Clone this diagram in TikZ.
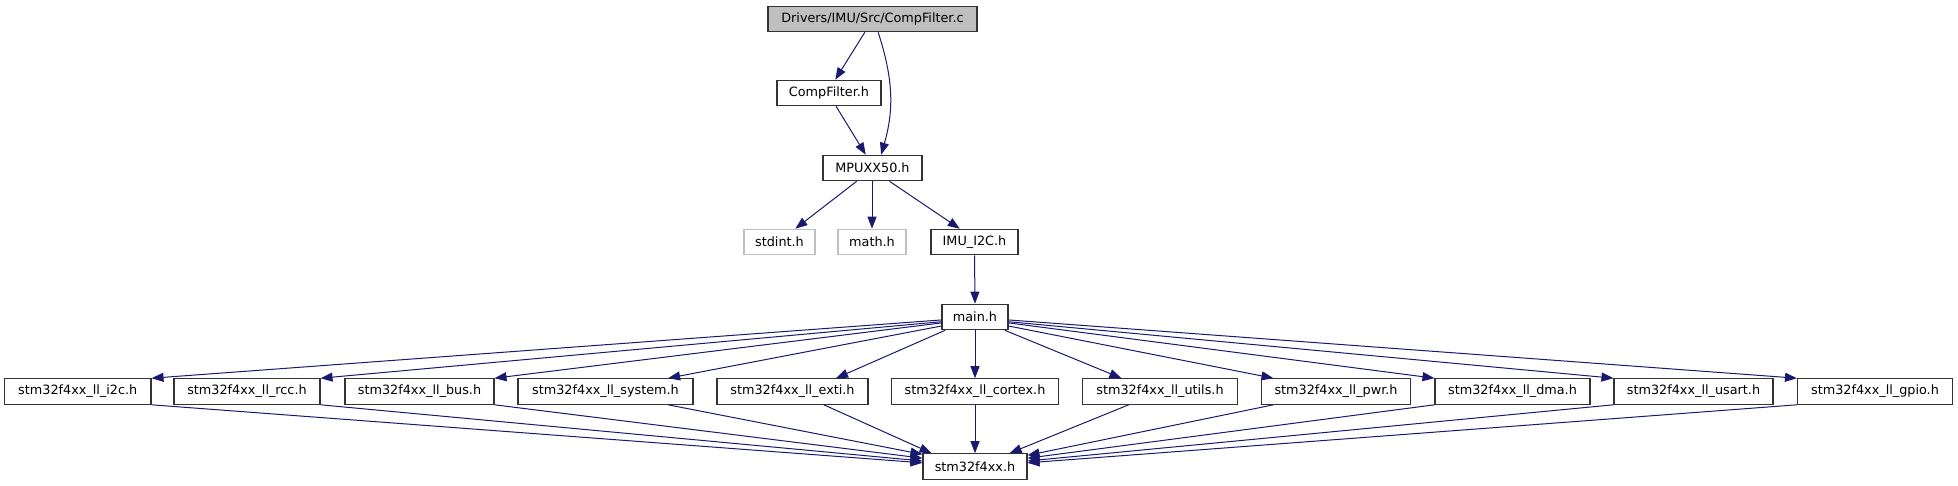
\documentclass[tikz,border=0pt]{standalone}
\usepackage{fontspec}
\setmainfont{DejaVu Sans}
\usepackage{tikz}
\usetikzlibrary{arrows.meta}

\definecolor{edgeblue}{HTML}{191970}
\definecolor{rootgray}{HTML}{BFBFBF}

\begin{document}
\begin{tikzpicture}[
        x=1pt, y=-1pt,
        font=\fontsize{12.8}{15}\selectfont,
        hdr/.style={rectangle, draw=black!80, line width=1.1pt, fill=white, inner sep=0pt, minimum height=25.5, align=center},
        sysinc/.style={hdr, draw=rootgray},
        root/.style={hdr, fill=rootgray},
        arrow/.style={-{Triangle[length=12pt, width=9pt]}, draw=edgeblue, line width=1pt},
    ]
        \useasboundingbox (0,0) rectangle (1958,485);

        % upper part of the include tree
        \node[root, minimum width=209] (src) at (872.5,19) {Drivers/IMU/Src/CompFilter.c};
        \node[hdr, minimum width=104] (cfh) at (829,93) {CompFilter.h};
        \node[hdr, minimum width=99] (mpu) at (872.5,168) {MPUXX50.h};
        \node[sysinc, minimum width=71] (stdint) at (779.5,242) {stdint.h};
        \node[sysinc, minimum width=68] (math) at (872,242) {math.h};
        \node[hdr, minimum width=87] (imu) at (974.5,242) {IMU\_I2C.h};
        \node[hdr, minimum width=66] (main) at (975,317) {main.h};

        % LL driver headers
        \node[hdr, minimum width=146.5] (i2c) at (77.75,391.5) {stm32f4xx\_ll\_i2c.h};
        \node[hdr, minimum width=146] (rcc) at (247,391.5) {stm32f4xx\_ll\_rcc.h};
        \node[hdr, minimum width=149] (bus) at (419.5,391.5) {stm32f4xx\_ll\_bus.h};
        \node[hdr, minimum width=175] (system) at (605.5,391.5) {stm32f4xx\_ll\_system.h};
        \node[hdr, minimum width=151] (exti) at (792.5,391.5) {stm32f4xx\_ll\_exti.h};
        \node[hdr, minimum width=166.5] (cortex) at (975,391.5) {stm32f4xx\_ll\_cortex.h};
        \node[hdr, minimum width=154.5] (utils) at (1160,391.5) {stm32f4xx\_ll\_utils.h};
        \node[hdr, minimum width=149.5] (pwr) at (1336,391.5) {stm32f4xx\_ll\_pwr.h};
        \node[hdr, minimum width=155] (dma) at (1512.5,391.5) {stm32f4xx\_ll\_dma.h};
        \node[hdr, minimum width=159] (usart) at (1693.5,391.5) {stm32f4xx\_ll\_usart.h};
        \node[hdr, minimum width=155] (gpio) at (1875,391.5) {stm32f4xx\_ll\_gpio.h};

        \node[hdr, minimum width=104] (stm) at (975,466.5) {stm32f4xx.h};

        % edges
        \draw[arrow] (src.240) -- (cfh.65);
        \draw[arrow] (src.293) to[out=-72, in=74] (mpu.57);
        \draw[arrow] (cfh.298) -- (mpu.117);
        \draw[arrow] (mpu.220) -- (stdint.40);
        \draw[arrow] (mpu.south -| math) -- (math.north);
        \draw[arrow] (mpu.322) -- (imu.138);
        \draw[arrow] (imu.south) -- (main.north);

        \draw[arrow] (main.185) -- (i2c.north east);
        \draw[arrow] (main.188) -- (rcc.north east);
        \draw[arrow] (main.190) -- (bus.north east);
        \draw[arrow] (main.195) -- (system.12);
        \draw[arrow] (main.204) -- (exti.17);
        \draw[arrow] (main.south) -- (cortex.north);
        \draw[arrow] (main.336) -- (utils.161);
        \draw[arrow] (main.345) -- (pwr.168);
        \draw[arrow] (main.350) -- (dma.north west);
        \draw[arrow] (main.352) -- (usart.north west);
        \draw[arrow] (main.355) -- (gpio.north west);

        \draw[arrow] (i2c.south east) -- (stm.176);
        \draw[arrow] (rcc.south east) -- (stm.174);
        \draw[arrow] (bus.south east) -- (stm.171);
        \draw[arrow] (system.348) -- (stm.167);
        \draw[arrow] (exti.337) -- (stm.163);
        \draw[arrow] (cortex.south) -- (stm.north);
        \draw[arrow] (utils.203) -- (stm.21);
        \draw[arrow] (pwr.192) -- (stm.12);
        \draw[arrow] (dma.south west) -- (stm.9);
        \draw[arrow] (usart.south west) -- (stm.6);
        \draw[arrow] (gpio.south west) -- (stm.4);
    \end{tikzpicture}
\end{document}
